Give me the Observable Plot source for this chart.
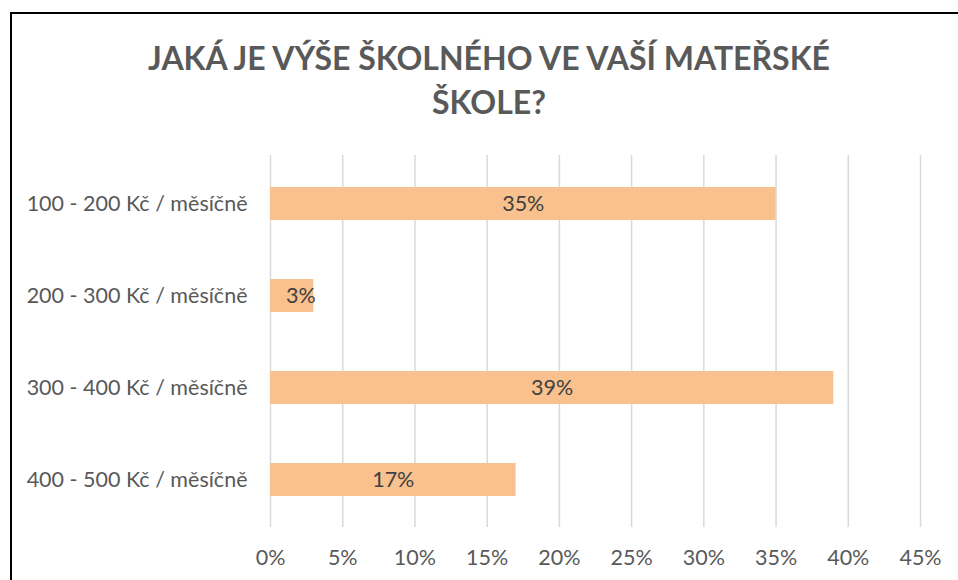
<!DOCTYPE html>
<html><head><meta charset="utf-8">
<script src="https://cdn.jsdelivr.net/npm/d3@7"></script>
<script src="https://cdn.jsdelivr.net/npm/@observablehq/plot@0.6"></script>
<style>
body{margin:0;background:#fff;font-family:Lato,"Open Sans",sans-serif;}
#frame{position:absolute;left:10px;top:12px;width:1000px;height:620px;border:2px solid #000;box-sizing:border-box;}
#title{position:absolute;left:0;top:36px;width:978px;text-align:center;font-weight:bold;font-size:32px;line-height:44px;color:#595959;}
#chart{position:absolute;left:0;top:140px;}
</style></head>
<body>
<div id="frame"></div>
<div id="title">JAKÁ JE VÝŠE ŠKOLNÉHO VE VAŠÍ MATEŘSKÉ<br>ŠKOLE?</div>
<div id="chart"></div>
<script>
const categories = ["100 - 200 Kč / měsíčně","200 - 300 Kč / měsíčně","300 - 400 Kč / měsíčně","400 - 500 Kč / měsíčně"];
const values = [0.35, 0.03, 0.39, 0.17];
const xTicks = [0,0.05,0.10,0.15,0.20,0.25,0.30,0.35,0.40,0.45];
const data = categories.map((c,i)=>({cat:c, v:values[i]}));
const fmt = d3.format(".0%");
const chart = Plot.plot({
  width: 958, height: 440,
  marginLeft: 270, marginRight: 38, marginTop: 15, marginBottom: 53,
  style: {fontFamily: "Lato, 'Open Sans', sans-serif", fontSize: "21.5px", color: "#595959", background: "transparent"},
  x: {domain: [0, 0.45], ticks: xTicks, tickFormat: fmt, label: null, tickSize: 0, tickPadding: 22},
  y: {domain: categories, label: null, tickSize: 0, tickPadding: 23, paddingInner: 0.643, paddingOuter: 0.33},
  marks: [
    Plot.gridX(xTicks, {stroke: "#d9d9d9", strokeOpacity: 1, strokeWidth: 1.5}),
    Plot.barX(data, {x: "v", y: "cat", fill: "#f9c18e"}),
    Plot.text(data, {x: d => d.v < 0.05 ? d.v/2 + 0.006 : d.v/2, y: "cat", text: d => fmt(d.v), fill: "#404040", fontSize: 21.5}),
    Plot.axisX({ticks: xTicks, tickFormat: fmt, tickSize: 0, tickPadding: 22, label: null, fill: "#595959", fontSize: 21.5}),
    Plot.axisY({tickSize: 0, tickPadding: 23, label: null, fill: "#595959", fontSize: 21.5})
  ]
});
document.getElementById("chart").appendChild(chart);
</script>
</body></html>
